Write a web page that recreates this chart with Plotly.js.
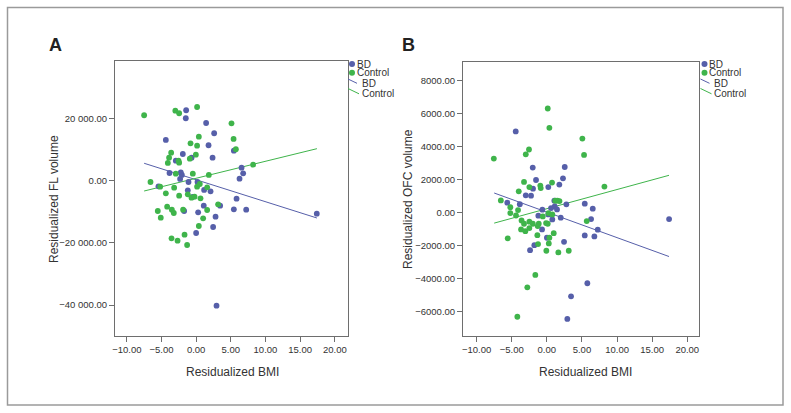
<!DOCTYPE html>
<html><head><meta charset="utf-8">
<script src="https://cdn.plot.ly/plotly-3.0.1.min.js"></script>
<style>html,body{margin:0;padding:0;background:#fff}#chart{width:791px;height:413px}</style>
</head><body><div id="chart"></div>
<script>
// ---- Data ----
const flBdX = [-1.44,-1.49,1.44,-4.37,2.6,1.79,5.44,-1.92,-0.66,-2.93,2.37,-3.84,-2.21,-2.06,-2.31,-1.1,0.2,-5.43,-1.2,-0.52,1.15,2.08,6.55,6.78,6.26,5.83,1.1,3.46,-1.73,0.29,5.44,7.22,2.8,2.45,0.0,17.4,2.94];
const flBdY = [22810,20230,18710,13230,15390,11520,9780,8710,7520,6550,7520,2580,2800,1940,650,-320,-320,-1710,-3000,-5160,-2900,-3320,4290,2480,740,-5710,-7970,-7970,-9680,-10100,-9130,-9260,-11520,-14840,-16780,-10550,-40230];
const flCtrlX = [-7.5,-3.0,-2.45,0.14,5.1,0.39,-0.81,0.14,5.4,5.73,-3.6,-3.9,-4.08,-2.54,-2.45,-0.91,-0.04,-2.93,-0.48,1.83,8.22,-6.58,-5.19,-3.17,-4.37,-2.45,-1.2,0.14,0.53,1.59,-0.23,0.63,-0.67,-4.18,-3.5,-3.22,-1.88,-5.53,-5.1,1.59,3.17,1.01,0.39,-3.55,-2.68,-1.67,-1.3];
const flCtrlY = [21200,22680,21840,23870,18610,14300,12160,11400,13550,10230,9130,7520,5810,6550,5900,7200,8490,2360,2360,1940,5260,-320,-1840,-2160,-3970,-4740,-4290,-1840,-970,-2030,-5060,-5580,-5390,-8290,-9260,-10320,-9260,-9680,-11840,-9360,-7520,-12030,-14520,-18490,-19260,-17320,-20650];
const flFitX = [-7.5, 17.42];
const flFitBdY = [5710, -11940];
const flFitCtrlY = [-3230, 10420];

const ofcBdX = [-4.43,-5.63,-3.85,-2.01,2.55,2.3,1.78,-1.54,0.21,-1.97,-2.25,-3.0,1.07,1.12,0.6,1.45,-0.64,2.78,5.4,6.54,0.21,-1.21,1.98,0.78,6.3,-0.68,17.41,2.45,5.4,6.77,7.25,-2.39,-1.78,0.01,5.77,3.45,2.92];
const ofcBdY = [4910,606,510,2727,2763,2079,1697,1976,1551,1454,1030,1048,727,380,280,200,180,503,545,242,-103,-182,-303,-406,-388,-1010,-388,-1760,-1376,-1436,-1030,-2266,-1963,-1515,-4266,-5054,-6424];
const ofcCtrlX = [-7.55,-6.55,-5.2,-5.2,-4.39,-4.0,-4.1,-5.57,-3.6,-4.2,0.13,0.36,5.06,5.3,-2.54,-3.0,-3.25,-2.49,-0.93,-0.87,0.74,8.2,1.2,1.5,1.8,-3.25,-2.49,-2.0,-1.15,-0.58,-0.11,0.13,0.22,0.78,-3.67,-3.06,-2.49,-1.3,0.98,5.68,-1.35,0.36,0.28,-1.25,-0.07,1.64,3.12,-1.64,-2.78];
const ofcCtrlY = [3270,740,330,-24,-170,1290,160,-1550,-467,-6290,6300,5130,4480,3490,3820,3530,1860,1550,1640,1490,1820,1580,727,727,700,-670,-545,-670,-670,-224,-630,-670,-24,-103,-1010,-1115,-933,-812,-1236,-509,-1357,-1515,-1860,-1900,-2300,-2400,-2300,-3760,-4510];
const ofcFitX = [-7.5, 17.4];
const ofcFitBdY = [1190, -2650];
const ofcFitCtrlY = [-630, 2260];

const xTickVals = [-10,-5,0,5,10,15,20];
const xTickText = ['\u221210.00','\u22125.00','0.00','5.00','10.00','15.00','20.00'];
const flTickVals = [-40000,-20000,0,20000];
const flTickText = ['\u221240 000.00','\u221220 000.00','0.00','20 000.00'];
const ofcTickVals = [-6000,-4000,-2000,0,2000,4000,6000,8000];
const ofcTickText = ['\u22126000.00','\u22124000.00','\u22122000.00','0.00','2000.00','4000.00','6000.00','8000.00'];

const groups = ['BD','Control'];
// ---- Styles ----
const BLUE = '#565fa9', GREEN = '#3fb44b';
const W = 791, H = 413;
const px = x => x / W, py = y => 1 - y / H;
const FONT = 'Liberation Sans, Arial, Helvetica, sans-serif';

function pts(x, y, color, xa, ya) {
  return {x, y, type:'scatter', mode:'markers', xaxis:xa, yaxis:ya, showlegend:false,
    marker:{color, size:5.8}, hoverinfo:'x+y'};
}
function fit(x, y, color, xa, ya) {
  return {x, y, type:'scatter', mode:'lines', xaxis:xa, yaxis:ya, showlegend:false,
    line:{color, width:1}, hoverinfo:'skip'};
}
const traces = [
  fit(flFitX, flFitBdY, BLUE, 'x', 'y'),
  fit(flFitX, flFitCtrlY, GREEN, 'x', 'y'),
  pts(flBdX, flBdY, BLUE, 'x', 'y'),
  pts(flCtrlX, flCtrlY, GREEN, 'x', 'y'),
  fit(ofcFitX, ofcFitBdY, BLUE, 'x2', 'y2'),
  fit(ofcFitX, ofcFitCtrlY, GREEN, 'x2', 'y2'),
  pts(ofcBdX, ofcBdY, BLUE, 'x2', 'y2'),
  pts(ofcCtrlX, ofcCtrlY, GREEN, 'x2', 'y2')
];

const AX = '#6e6e6e';
function axis(extra) {
  return Object.assign({showgrid:false, zeroline:false, showline:true, mirror:true,
    linecolor:AX, linewidth:1, ticks:'outside', ticklen:5, tickcolor:AX, tickwidth:1,
    tickmode:'array', tickfont:{family:FONT, size:9.5, color:'#333'}, fixedrange:true}, extra);
}

const annotations = [];
const shapes = [];
function text(t, x, y, opts) {
  annotations.push(Object.assign({text:t, x:px(x), y:py(y), xref:'paper', yref:'paper',
    xanchor:'center', yanchor:'middle', borderpad:0,
    showarrow:false, font:{family:FONT, size:12, color:'#333'}}, opts));
}
// panel letters
text('<b>A</b>', 55, 45, {font:{family:FONT, size:18, color:'#222'}});
text('<b>B</b>', 408, 45, {font:{family:FONT, size:18, color:'#222'}});
// axis titles
text('Residualized BMI', 232, 372, {});
text('Residualized BMI', 585, 372, {});
text('Residualized FL volume', 54, 199, {textangle:-90});
text('Residualized OFC volume', 408, 199, {textangle:-90});

// manual legends
const LF = {family:FONT, size:10, color:'#333'};
function legend(x0, yTop) {
  const colors = [BLUE, GREEN];
  for (let i = 0; i < 2; i++) {
    const yy = yTop + i * 8.7;
    shapes.push({type:'circle', xref:'paper', yref:'paper', xsizemode:'pixel', ysizemode:'pixel',
      xanchor:px(x0 + 4), yanchor:py(yy), x0:-3, x1:3, y0:-3, y1:3,
      fillcolor:colors[i], line:{width:0}});
    text(groups[i], x0 + 7.5, yy, {xanchor:'left', font:LF});
  }
  for (let i = 0; i < 2; i++) {
    const yy = yTop + 17.5 + i * 9.5;
    shapes.push({type:'line', xref:'paper', yref:'paper', x0:px(x0), y0:py(yy - 2.5),
      x1:px(x0 + 9 + i * 2), y1:py(yy + 1.8 + i), line:{color:colors[i], width:1}});
    text(groups[i], x0 + 12.5, yy + 2, {xanchor:'left', font:LF});
  }
}
legend(348, 64);
legend(700.5, 64);

// outer frame
shapes.push({type:'rect', xref:'paper', yref:'paper', x0:px(7.5), x1:px(783), y0:py(405), y1:py(7.5),
  line:{color:'#9a9a9a', width:1.5}, layer:'below'});

const layout = {
  width:W, height:H, margin:{l:0, r:0, t:0, b:0}, paper_bgcolor:'#fff', plot_bgcolor:'#fff',
  showlegend:false, font:{family:FONT},
  xaxis: axis({domain:[px(115), px(348)], range:[-11.7, 21.9], anchor:'y', tickvals:xTickVals, ticktext:xTickText}),
  yaxis: axis({domain:[py(336), py(61)], range:[-50000, 38700], anchor:'x', tickvals:flTickVals, ticktext:flTickText}),
  xaxis2: axis({domain:[px(463), px(699)], range:[-11.94, 21.67], anchor:'y2', tickvals:xTickVals, ticktext:xTickText}),
  yaxis2: axis({domain:[py(336), py(62)], range:[-7455, 9110], anchor:'x2', tickvals:ofcTickVals, ticktext:ofcTickText}),
  annotations, shapes
};
Plotly.newPlot('chart', traces, layout, {displayModeBar:false, staticPlot:true});
</script></body></html>
